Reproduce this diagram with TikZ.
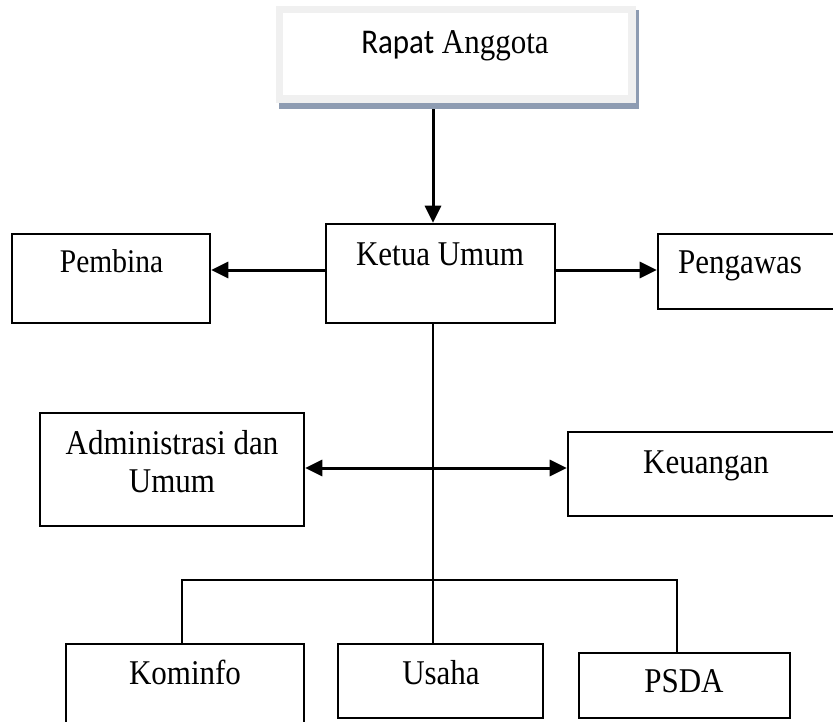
\documentclass[tikz,border=0pt]{standalone}
\usepackage{fontspec}
\setmainfont{Liberation Serif}
\newfontfamily\carlito{Carlito}
\usetikzlibrary{arrows.meta}
\definecolor{shadowblue}{HTML}{8E9CB2}
\definecolor{framegray}{HTML}{F0F0F0}
\newcommand{\tallt}[1]{\scalebox{1}[1.12]{#1}}
\tikzset{
  box/.style={draw=black, line width=2.6pt, inner sep=0pt, fill=white},
  txt/.style={anchor=base, inner sep=0pt, font=\fontsize{31}{38}\selectfont},
  conn/.style={line width=2.4pt},
  arr/.style={line width=3pt, -{Triangle[length=17pt,width=16pt]}},
  darr/.style={line width=3pt, {Triangle[length=17pt,width=16pt]}-{Triangle[length=17pt,width=16pt]}},
}
\begin{document}
\begin{tikzpicture}[x=1pt,y=-1pt]
\useasboundingbox (0,0) rectangle (833,721);
\fill[white] (0,0) rectangle (833,721);
\clip (0,0) rectangle (833,721);

% Rapat Anggota (shadowed frame)
\fill[shadowblue] (279,10) rectangle (639,109);
\fill[framegray] (276,6) rectangle (636,103);
\node[fill=white, inner sep=0pt, minimum width=345pt, minimum height=82pt] (rapat) at (455.5,54) {};
\node[txt] (t-rapat) at (455,53) {\tallt{{\carlito Rapat} Anggota}};
\coordinate (rapatbot) at (455,109);

% boxes
\node[box, minimum width=229pt, minimum height=99pt] (ketua) at (440.5,273.5) {};
\node[box, minimum width=198pt, minimum height=89pt] (pembina) at (111,278.5) {};
\node[box, minimum width=190pt, minimum height=75pt] (pengawas) at (753,271.5) {};
\node[box, minimum width=264pt, minimum height=113pt] (admin) at (172,469.5) {};
\node[box, minimum width=280pt, minimum height=84pt] (keuangan) at (708,474) {};
\node[box, minimum width=238pt, minimum height=100pt] (kominfo) at (185,694) {};
\node[box, minimum width=205pt, minimum height=74pt] (usaha) at (440.5,681) {};
\node[box, minimum width=211pt, minimum height=65pt] (psda) at (684.5,685.5) {};

% texts
\node[txt] (t-ketua) at (440,265) {\tallt{Ketua Umum}};
\node[txt, font=\fontsize{29.5}{36}\selectfont] (t-pembina) at (111.5,272) {\tallt{Pembina}};
\node[txt] (t-pengawas) at (740,273) {\tallt{Pengawas}};
\node[txt, anchor=north, align=center, font=\fontsize{31}{38}\selectfont] (t-admin) at (172,430) {\tallt{Administrasi dan}\\\tallt{Umum}};
\node[txt] (t-keuangan) at (706,473) {\tallt{Keuangan}};
\node[txt] (t-kominfo) at (185,684) {\tallt{Kominfo}};
\node[txt] (t-usaha) at (441,684) {\tallt{Usaha}};
\node[txt] (t-psda) at (684,692) {\tallt{PSDA}};

% connectors
\coordinate (trunk) at (433,0);
\coordinate (hl) at (0,270);
\coordinate (hm) at (0,468);
\coordinate (brL) at (182,580);
\coordinate (brR) at (677,580);

\draw[arr] (rapatbot -| trunk) -- (ketua.north -| trunk);
\draw[arr] (ketua.west |- hl) -- (pembina.east |- hl);
\draw[arr] (ketua.east |- hl) -- (pengawas.west |- hl);
\draw[conn] (ketua.south -| trunk) -- (usaha.north -| trunk);
\draw[darr] (admin.east |- hm) -- (keuangan.west |- hm);
\draw[conn] (kominfo.north -| brL) -- (brL) -- (brR) -- (psda.north -| brR);
\end{tikzpicture}
\end{document}
